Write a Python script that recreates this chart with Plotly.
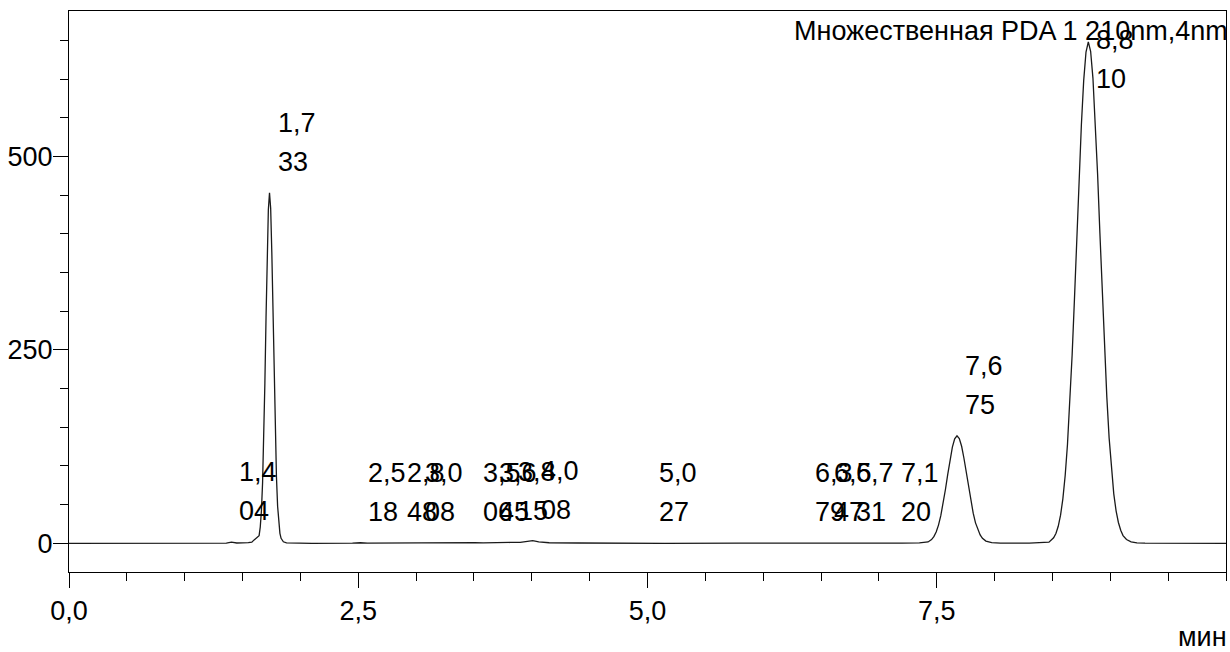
import plotly.graph_objects as go

# Chromatogram trace: retention time (min) and detector response
time_min = [
    0.00, 1.20, 1.30, 1.36, 1.404, 1.45, 1.55, 1.58, 1.60, 1.615, 1.63,
    1.643, 1.653, 1.663, 1.673, 1.683, 1.693, 1.703, 1.713, 1.723, 1.733,
    1.743, 1.753, 1.763, 1.773, 1.783, 1.793, 1.803, 1.813, 1.823, 1.833,
    1.853, 1.88, 1.95, 2.10, 2.45, 2.518, 2.58, 2.848, 2.93, 3.008, 3.20,
    3.506, 3.58, 3.645, 3.72, 3.815, 3.90, 3.96, 4.008, 4.06, 4.15, 4.40,
    4.70, 5.027, 5.15, 5.80, 6.20, 6.379, 6.45, 6.547, 6.63, 6.731, 6.85,
    7.00, 7.120, 7.20, 7.35, 7.375, 7.425, 7.455, 7.475, 7.495, 7.515,
    7.535, 7.555, 7.575, 7.595, 7.615, 7.635, 7.655, 7.675, 7.695, 7.715,
    7.735, 7.755, 7.775, 7.795, 7.815, 7.835, 7.855, 7.875, 7.895, 7.925,
    7.975, 8.05, 8.30, 8.42, 8.47, 8.51, 8.53, 8.55, 8.57, 8.59, 8.61,
    8.63, 8.65, 8.67, 8.69, 8.71, 8.73, 8.75, 8.77, 8.79, 8.81, 8.83,
    8.85, 8.87, 8.89, 8.91, 8.93, 8.95, 8.97, 8.99, 9.01, 9.03, 9.05,
    9.07, 9.09, 9.11, 9.14, 9.18, 9.23, 9.30, 10.00,
]
signal = [
    0.0, 0.0, 0.6, 0.3, 1.5, 0.5, 1.0, 1.5, 4.5, 6.5, 8.0,
    10.0, 21.0, 42.0, 78.0, 134.0, 207.0, 292.0, 373.0, 431.0, 453.0,
    433.0, 376.0, 297.0, 214.0, 140.0, 86.0, 48.0, 26.0, 13.0, 6.5,
    2.0, 0.6, 0.2, 0.1, 0.2, 0.8, 0.2, 0.6, 0.3, 0.8, 0.5,
    0.9, 0.6, 1.0, 0.7, 1.2, 1.3, 2.5, 3.5, 2.0, 0.8, 0.5,
    0.2, 0.7, 0.1, 0.2, 0.5, 0.9, 0.6, 0.8, 0.5, 0.9, 0.3,
    0.3, 0.8, 0.3, 0.6, 0.8, 1.8, 4.9, 8.7, 14.8, 23.6,
    35.8, 51.3, 69.6, 89.2, 108.4, 124.4, 135.0, 139.0, 135.5, 125.5,
    110.0, 91.5, 72.5, 54.5, 39.0, 26.5, 17.5, 11.0, 6.5, 3.0,
    1.0, 0.4, 0.3, 0.7, 1.5, 7.2, 12.8, 22.1, 36.4, 57.6, 87.7,
    128.0, 180.0, 243.0, 315.0, 393.0, 471.0, 541.0, 598.0, 635.0, 648.0, 636.0,
    601.0, 546.0, 478.0, 401.0, 324.0, 252.0, 189.0, 136.0, 95.0, 64.0, 42.0,
    27.0, 17.0, 10.0, 5.0, 2.0, 0.6, 0.2, 0.0,
]

# Integrated peaks: retention time and apex height
peak_times = [1.404, 1.733, 2.518, 2.848, 3.008, 3.506, 3.645, 3.815,
              4.008, 5.027, 6.379, 6.547, 6.731, 7.120, 7.675, 8.810]
peak_heights = [1.5, 453.0, 0.8, 0.6, 0.8, 0.9, 1.0, 1.2,
                3.5, 0.7, 0.9, 0.8, 0.9, 0.8, 139.0, 648.0]

x_tick_vals = [0, 2.5, 5, 7.5]
x_tick_text = ["0,0", "2,5", "5,0", "7,5"]
y_tick_vals = [0, 250, 500]
y_tick_text = ["0", "250", "500"]

channel_title = "Множественная PDA 1 210nm,4nm"
x_unit = "мин"

FONT = "Liberation Sans, Arial, sans-serif"
FS = 27
INK = "#000000"
LABEL_CAP = 560  # labels of very tall peaks stay inside the frame

fig = go.Figure()
fig.add_trace(go.Scatter(
    x=time_min, y=signal, mode="lines",
    line=dict(color="#1a1a1a", width=1.3),
    hoverinfo="skip", showlegend=False,
))

annotations = []
for t, h in zip(peak_times, peak_heights):
    txt = f"{t:.3f}".replace(".", ",")
    top, bottom = txt[:3], txt[3:]
    y_anchor = min(h, LABEL_CAP)
    for part, shift in ((top, 70), (bottom, 31)):
        annotations.append(dict(
            x=t, y=y_anchor, xref="x", yref="y", text=part,
            showarrow=False, xanchor="left", yanchor="middle",
            xshift=6, yshift=shift,
            font=dict(family=FONT, size=FS, color=INK),
        ))

annotations.append(dict(
    x=1, y=1, xref="paper", yref="paper", text=channel_title,
    showarrow=False, xanchor="right", yanchor="middle",
    xshift=4, yshift=-20,
    font=dict(family=FONT, size=FS, color=INK),
))
annotations.append(dict(
    x=1, y=0, xref="paper", yref="paper", text=x_unit,
    showarrow=False, xanchor="right", yanchor="middle",
    xshift=3, yshift=-65,
    font=dict(family=FONT, size=FS, color=INK),
))

axis_common = dict(
    showline=True, linecolor="#000000", linewidth=1, mirror=True,
    showgrid=False, zeroline=False, ticks="outside",
    tickcolor="#000000", tickwidth=1, ticklen=15,
    tickfont=dict(family=FONT, size=FS, color=INK),
)

fig.update_layout(
    width=1230, height=652,
    margin=dict(l=69, r=4, t=11, b=80),
    paper_bgcolor="white", plot_bgcolor="white",
    annotations=annotations,
    xaxis=dict(
        range=[0, 10], tickvals=x_tick_vals, ticktext=x_tick_text,
        minor=dict(dtick=0.5, tick0=0, ticks="outside", ticklen=8,
                   tickcolor="#000000", tickwidth=1),
        **axis_common,
    ),
    yaxis=dict(
        range=[-37, 688], tickvals=y_tick_vals, ticktext=y_tick_text,
        minor=dict(dtick=50, tick0=0, ticks="outside", ticklen=8,
                   tickcolor="#000000", tickwidth=1),
        ticklabelstandoff=-5,
        **axis_common,
    ),
)

fig.write_html("out.html")
